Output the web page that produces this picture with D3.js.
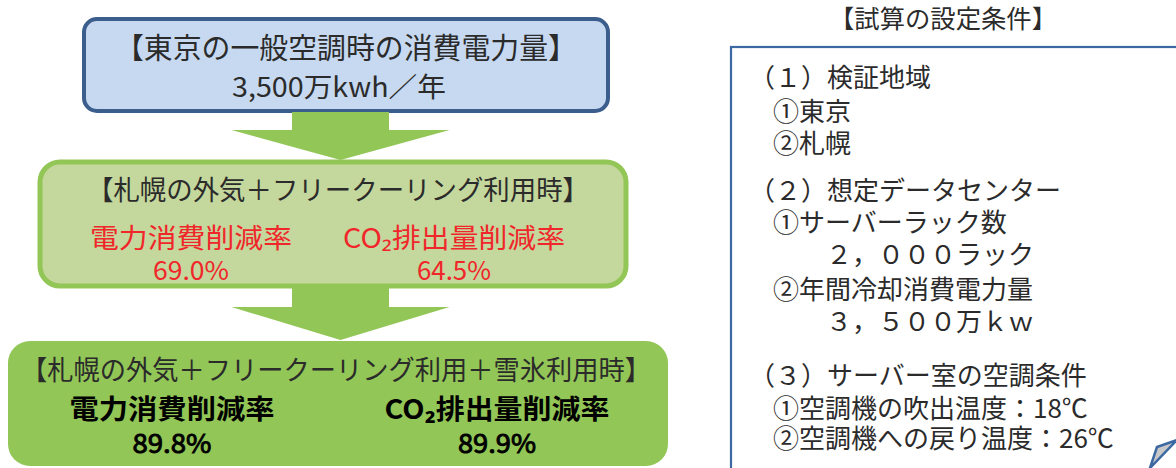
<!DOCTYPE html>
<html>
<head>
<meta charset="utf-8">
<script src="https://cdn.jsdelivr.net/npm/d3@7/dist/d3.min.js"></script>
<style>
  html, body { margin: 0; padding: 0; background: #fff; }
  svg { display: block; }
  text { font-family: "Noto Sans CJK JP", "Noto Sans", sans-serif; }
</style>
</head>
<body>
<svg id="chart" width="1176" height="468"></svg>
<script>
// Flow of the three cooling scenarios (top to bottom)
const stageTitles = [
  "【東京の一般空調時の消費電力量】",
  "【札幌の外気＋フリークーリング利用時】",
  "【札幌の外気＋フリークーリング利用＋雪氷利用時】"
];
const baselineLabel = "3,500万kwh／年";
const metricNames = ["電力消費削減率", "CO₂排出量削減率"];
const powerReduction = [null, 69.0, 89.8];   // %
const co2Reduction = [null, 64.5, 89.9];     // %

// Calculation conditions panel
const conditionsTitle = "【試算の設定条件】";
const conditionLines = [
  { t: "（１）検証地域", lvl: 0 },
  { t: "①東京", lvl: 1 },
  { t: "②札幌", lvl: 1 },
  { t: "（２）想定データセンター", lvl: 0 },
  { t: "①サーバーラック数", lvl: 1 },
  { t: "２，０００ラック", lvl: 2 },
  { t: "②年間冷却消費電力量", lvl: 1 },
  { t: "３，５００万ｋｗ", lvl: 2 },
  { t: "（３）サーバー室の空調条件", lvl: 0 },
  { t: "①空調機の吹出温度：18℃", lvl: 1 },
  { t: "②空調機への戻り温度：26℃", lvl: 1 }
];
const conditionY = [77, 111, 143, 190, 222, 254, 289, 321, 375, 408, 438];

const svg = d3.select("#chart");
const green = "#92c656";
const fmt = d3.format(".1f");

// ---- scenario boxes ----
const boxes = [
  { x: 84, y: 19, w: 524, h: 92, rx: 13, fill: "#c6d9f0", stroke: "#3b5e8d", sw: 4 },
  { x: 40, y: 162, w: 586, h: 124, rx: 20, fill: "#c4d79c", stroke: green, sw: 5 },
  { x: 8, y: 341, w: 660, h: 125, rx: 22, fill: green, stroke: "none", sw: 0 }
];
svg.selectAll("rect.stage").data(boxes).join("rect")
  .attr("class", "stage")
  .attr("x", d => d.x).attr("y", d => d.y)
  .attr("width", d => d.w).attr("height", d => d.h)
  .attr("rx", d => d.rx)
  .attr("fill", d => d.fill).attr("stroke", d => d.stroke).attr("stroke-width", d => d.sw);

// ---- downward arrows between boxes ----
const arrows = [
  { cx: 340.5, top: 112, neck: 130, tip: 160 },
  { cx: 340.5, top: 288, neck: 307, tip: 340 }
];
const arrowPath = a => {
  const sh = 48.5, hw = 109;
  return d3.line()([
    [a.cx - sh, a.top], [a.cx + sh, a.top], [a.cx + sh, a.neck], [a.cx + hw, a.neck],
    [a.cx, a.tip], [a.cx - hw, a.neck], [a.cx - sh, a.neck]
  ]) + "Z";
};
svg.selectAll("path.arrow").data(arrows).join("path")
  .attr("class", "arrow").attr("d", arrowPath).attr("fill", green);

// ---- titles of each box ----
const titleLayout = [
  { x: 346, y: 59, len: 462, fs: 29 },
  { x: 338, y: 200, len: 502, fs: 27 },
  { x: 336, y: 380, len: 630, fs: 27 }
];
svg.selectAll("text.title").data(stageTitles).join("text")
  .attr("class", "title")
  .attr("x", (d, i) => titleLayout[i].x).attr("y", (d, i) => titleLayout[i].y)
  .attr("text-anchor", "middle")
  .attr("font-size", (d, i) => titleLayout[i].fs)
  .attr("fill", "#2b2b2b")
  .attr("textLength", (d, i) => titleLayout[i].len)
  .attr("lengthAdjust", "spacingAndGlyphs")
  .text(d => d);

svg.append("text")
  .attr("x", 339).attr("y", 97).attr("text-anchor", "middle")
  .attr("font-size", 27).attr("fill", "#2b2b2b")
  .attr("textLength", 214).attr("lengthAdjust", "spacingAndGlyphs")
  .text(baselineLabel);

// ---- reduction rates for stage 2 and 3 ----
const metricLayout = [
  { stage: 1, nameY: 248, valY: 280, cx: [191, 454], nameLen: [202, 222], valLen: [76, 74],
    fill: "#f0262a", nameWeight: 400, valWeight: 400, valStroke: 0, fs: 27, vfs: 26 },
  { stage: 2, nameY: 419, valY: 453, cx: [172, 497], nameLen: [205, 225], valLen: [79, 78],
    fill: "#000", nameWeight: 700, valWeight: 400, valStroke: 0.9, fs: 27, vfs: 26 }
];
metricLayout.forEach(m => {
  const vals = [powerReduction[m.stage], co2Reduction[m.stage]];
  const g = svg.append("g");
  g.selectAll("text.name").data(metricNames).join("text")
    .attr("class", "name")
    .attr("x", (d, i) => m.cx[i]).attr("y", m.nameY)
    .attr("text-anchor", "middle").attr("font-size", m.fs)
    .attr("font-weight", m.nameWeight).attr("fill", m.fill)
    .attr("textLength", (d, i) => m.nameLen[i]).attr("lengthAdjust", "spacingAndGlyphs")
    .text(d => d);
  g.selectAll("text.val").data(vals).join("text")
    .attr("class", "val")
    .attr("x", (d, i) => m.cx[i]).attr("y", m.valY)
    .attr("text-anchor", "middle").attr("font-size", m.vfs)
    .attr("font-weight", m.valWeight).attr("fill", m.fill)
    .attr("stroke", m.valStroke ? m.fill : "none").attr("stroke-width", m.valStroke)
    .attr("textLength", (d, i) => m.valLen[i]).attr("lengthAdjust", "spacingAndGlyphs")
    .text(d => fmt(d) + "%");
});

// ---- conditions panel ----
svg.append("text")
  .attr("x", 943).attr("y", 28).attr("text-anchor", "middle")
  .attr("font-size", 25).attr("fill", "#2b2b2b")
  .attr("textLength", 228).attr("lengthAdjust", "spacingAndGlyphs")
  .text(conditionsTitle);

svg.append("rect")
  .attr("x", 731).attr("y", 47).attr("width", 520).attr("height", 480)
  .attr("fill", "#fff").attr("stroke", "#3d69a3").attr("stroke-width", 2.2);

const indent = [749, 773, 826];
svg.selectAll("text.cond").data(conditionLines).join("text")
  .attr("class", "cond")
  .attr("x", d => indent[d.lvl])
  .attr("y", (d, i) => conditionY[i] + 9.5)
  .attr("font-size", 26).attr("fill", "#2b2b2b")
  .text(d => d.t);

// callout pointer peeking in at the lower right
svg.append("path")
  .attr("d", d3.line()([[1157, 447], [1177, 440], [1150, 468]]) + "Z")
  .attr("fill", "#c8c8c8").attr("stroke", "#3d69a3").attr("stroke-width", 2.5)
  .attr("stroke-linejoin", "round");
</script>
</body>
</html>
